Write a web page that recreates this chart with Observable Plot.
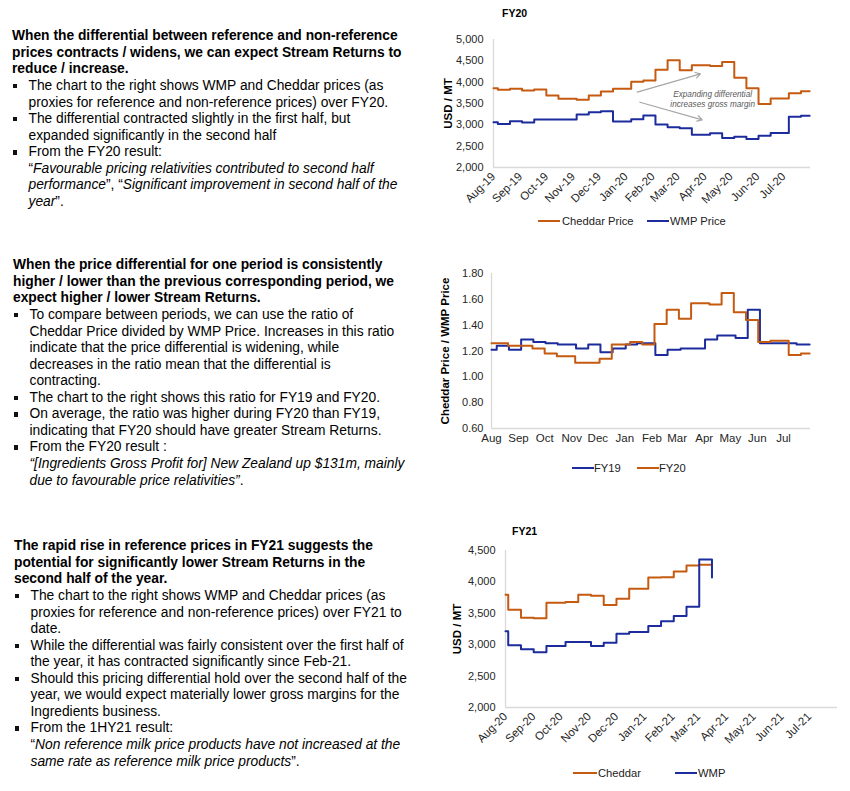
<!DOCTYPE html>
<html><head><meta charset="utf-8">
<script src="https://cdn.jsdelivr.net/npm/d3@7"></script>
<script src="https://cdn.jsdelivr.net/npm/@observablehq/plot@0.6"></script>
<style>
body{margin:0;background:#fff;font-family:"Liberation Sans",Arial,Helvetica,sans-serif;color:#000;}
#page{position:relative;width:850px;height:791px;overflow:hidden;background:#fff;}
.block{position:absolute;font-size:13.8px;line-height:16.55px;white-space:nowrap;}
.block .l{height:16.55px;position:relative;}
.block .h{font-weight:bold;}
.block .b{padding-left:16.5px;}
.sq{position:absolute;left:0.5px;top:6px;width:4.3px;height:4.3px;background:#111;}
.chart{position:absolute;}
.title{position:absolute;font-weight:bold;font-size:10.5px;line-height:12px;}
.leg{position:absolute;font-size:11.2px;line-height:14px;color:#222;white-space:nowrap;}
.sw{position:absolute;height:2px;}
</style></head>
<body><div id="page">

<div class="block" style="left:12px;top:28.4px;">
<div class="l h">When the differential between reference and non-reference</div>
<div class="l h">prices contracts / widens, we can expect Stream Returns to</div>
<div class="l h">reduce / increase.</div>
<div class="l b"><span class="sq"></span>The chart to the right shows WMP and Cheddar prices (as</div>
<div class="l b">proxies for reference and non-reference prices) over FY20.</div>
<div class="l b"><span class="sq"></span>The differential contracted slightly in the first half, but</div>
<div class="l b">expanded significantly in the second half</div>
<div class="l b"><span class="sq"></span>From the FY20 result:</div>
<div class="l b">“<i>Favourable pricing relativities contributed to second half</i></div>
<div class="l b"><i>performance</i>”, “<i>Significant improvement in second half of the</i></div>
<div class="l b"><i>year</i>”.</div>
</div>

<div class="block" style="left:13px;top:257.4px;">
<div class="l h">When the price differential for one period is consistently</div>
<div class="l h">higher / lower than the previous corresponding period, we</div>
<div class="l h">expect higher / lower Stream Returns.</div>
<div class="l b"><span class="sq"></span>To compare between periods, we can use the ratio of</div>
<div class="l b">Cheddar Price divided by WMP Price. Increases in this ratio</div>
<div class="l b">indicate that the price differential is widening, while</div>
<div class="l b">decreases in the ratio mean that the differential is</div>
<div class="l b">contracting.</div>
<div class="l b"><span class="sq"></span>The chart to the right shows this ratio for FY19 and FY20.</div>
<div class="l b"><span class="sq"></span>On average, the ratio was higher during FY20 than FY19,</div>
<div class="l b">indicating that FY20 should have greater Stream Returns.</div>
<div class="l b"><span class="sq"></span>From the FY20 result :</div>
<div class="l b"><i>“[Ingredients Gross Profit for] New Zealand up $131m, mainly</i></div>
<div class="l b"><i>due to favourable price relativities”</i>.</div>
</div>

<div class="block" style="left:14px;top:538.4px;">
<div class="l h">The rapid rise in reference prices in FY21 suggests the</div>
<div class="l h">potential for significantly lower Stream Returns in the</div>
<div class="l h">second half of the year.</div>
<div class="l b"><span class="sq"></span>The chart to the right shows WMP and Cheddar prices (as</div>
<div class="l b">proxies for reference and non-reference prices) over FY21 to</div>
<div class="l b">date.</div>
<div class="l b"><span class="sq"></span>While the differential was fairly consistent over the first half of</div>
<div class="l b">the year, it has contracted significantly since Feb-21.</div>
<div class="l b"><span class="sq"></span>Should this pricing differential hold over the second half of the</div>
<div class="l b">year, we would expect materially lower gross margins for the</div>
<div class="l b">Ingredients business.</div>
<div class="l b"><span class="sq"></span>From the 1HY21 result:</div>
<div class="l b">“<i>Non reference milk price products have not increased at the</i></div>
<div class="l b"><i>same rate as reference milk price products</i>”.</div>
</div>

<div class="title" style="left:502px;top:7px;">FY20</div>
<div class="chart" id="c1" style="left:430px;top:20px;"></div>
<div class="chart" id="c2" style="left:430px;top:263px;"></div>
<div class="title" style="left:512px;top:525px;">FY21</div>
<div class="chart" id="c3" style="left:430px;top:540px;"></div>

<div class="sw" style="left:538px;top:220px;width:22px;background:#C55A11"></div>
<div class="leg" style="left:562px;top:214px;">Cheddar Price</div>
<div class="sw" style="left:647px;top:220px;width:22px;background:#1C2C9C"></div>
<div class="leg" style="left:670px;top:214px;">WMP Price</div>

<div class="sw" style="left:572px;top:467px;width:22px;background:#1C2C9C"></div>
<div class="leg" style="left:594px;top:461px;">FY19</div>
<div class="sw" style="left:637px;top:467px;width:22px;background:#C55A11"></div>
<div class="leg" style="left:659px;top:461px;">FY20</div>

<div class="sw" style="left:573px;top:772px;width:24px;background:#C55A11"></div>
<div class="leg" style="left:598px;top:766px;">Cheddar</div>
<div class="sw" style="left:675px;top:772px;width:22px;background:#1C2C9C"></div>
<div class="leg" style="left:698px;top:766px;">WMP</div>

</div>
<script>
// ---------- DATA ----------
// FY20 GDT auction dates (step starts) and prices, USD/MT
const fy20Dates = ["2019-08-01","2019-08-06","2019-08-20","2019-09-03","2019-09-17","2019-10-01","2019-10-15","2019-11-05","2019-11-19","2019-12-03","2019-12-17","2020-01-07","2020-01-21","2020-02-04","2020-02-18","2020-03-03","2020-03-17","2020-04-07","2020-04-21","2020-05-05","2020-05-19","2020-06-02","2020-06-16","2020-07-07","2020-07-21","2020-07-31"];
const fy20Cheddar = [3860,3820,3845,3806,3830,3690,3610,3590,3690,3780,3845,4010,4040,4290,4513,4278,4395,4380,4474,4105,3860,3490,3615,3740,3790,3790];
const fy20Wmp = [3060,3020,3084,3052,3123,3123,3123,3240,3296,3320,3076,3130,3217,3005,2943,2920,2770,2800,2690,2723,2668,2746,2810,3190,3210,3210];
const fy20TickLabels = ["Aug-19","Sep-19","Oct-19","Nov-19","Dec-19","Jan-20","Feb-20","Mar-20","Apr-20","May-20","Jun-20","Jul-20"];
const priceTicksFy20 = [2000,2500,3000,3500,4000,4500,5000];
const arrowStarts = [["2020-01-14",3765],["2020-01-17",3530]];
const arrowEnds = [["2020-03-27",4196],["2020-03-29",3118]];
const noteText = "Expanding differential\nincreases gross margin";
const notePos = ["2020-04-10",3617];

// Ratio Cheddar / WMP
const fy19Dates = ["2018-08-01","2018-08-07","2018-08-21","2018-09-04","2018-09-18","2018-10-02","2018-10-16","2018-11-06","2018-11-20","2018-12-04","2018-12-18","2019-01-02","2019-01-15","2019-02-05","2019-02-19","2019-03-05","2019-03-19","2019-04-02","2019-04-16","2019-05-07","2019-05-21","2019-06-04","2019-06-18","2019-07-02","2019-07-16","2019-07-31"];
const fy19Ratio = [1.21,1.24,1.21,1.29,1.27,1.26,1.25,1.22,1.25,1.19,1.22,1.25,1.26,1.17,1.21,1.22,1.22,1.29,1.32,1.30,1.52,1.26,1.26,1.26,1.25,1.25];
const fy20Ratio = [1.26,1.26,1.24,1.24,1.22,1.18,1.16,1.11,1.11,1.14,1.25,1.27,1.25,1.41,1.52,1.45,1.57,1.56,1.65,1.50,1.44,1.27,1.28,1.17,1.18,1.18];
const ratioTickLabels = ["Aug","Sep","Oct","Nov","Dec","Jan","Feb","Mar","Apr","May","Jun","Jul"];
const ratioTicks = [0.6,0.8,1.0,1.2,1.4,1.6,1.8];

// FY21 to date
const fy21Dates = ["2020-08-01","2020-08-04","2020-08-18","2020-09-01","2020-09-15","2020-10-06","2020-10-20","2020-11-03","2020-11-17","2020-12-01","2020-12-15","2021-01-05","2021-01-19","2021-02-02","2021-02-16","2021-03-02","2021-03-16"];
const fy21Cheddar = [3795,3557,3430,3420,3668,3679,3795,3780,3631,3732,3891,4071,4076,4166,4262,4272,4272];
const fy21Wmp = [3213,2990,2927,2879,2980,3043,3043,2980,3033,3176,3202,3298,3372,3457,3605,4357,4071];
const fy21TickLabels = ["Aug-20","Sep-20","Oct-20","Nov-20","Dec-20","Jan-21","Feb-21","Mar-21","Apr-21","May-21","Jun-21","Jul-21"];
const priceTicksFy21 = [2000,2500,3000,3500,4000,4500];

// ---------- DRAW ----------
const ORANGE = "#C55A11", BLUE = "#1C2C9C", AXIS = "#d9d9d9", TXT = "#262626";
const FONT = "'Liberation Sans', Arial, Helvetica, sans-serif";
const pd = d3.utcParse("%Y-%m-%d");
const pm = d3.utcParse("%b-%y");

function series(dates, vals, name, shiftYears = 0) {
  return dates.map((d, i) => ({date: d3.utcYear.offset(pd(d), shiftYears), value: vals[i], series: name}));
}

function priceChart(el, o) {
  const tickDates = o.tickLabels.map(pm);
  const labelMap = new Map(tickDates.map((d, i) => [+d, o.tickLabels[i]]));
  const data = [...series(o.dates, o.cheddar, "Cheddar"), ...series(o.dates, o.wmp, "WMP")];
  const p = Plot.plot({
    width: 420, height: o.height,
    marginLeft: o.ml, marginRight: o.mr, marginTop: o.mt, marginBottom: o.mb,
    style: {fontFamily: FONT, fontSize: "11px", color: TXT, background: "transparent"},
    x: {type: "utc", domain: o.domainX},
    y: {domain: o.domainY},
    color: {domain: ["Cheddar", "WMP"], range: [ORANGE, BLUE]},
    marks: [
      Plot.ruleY([o.domainY[0]], {stroke: AXIS, strokeWidth: 1.3}),
      Plot.ruleX([o.domainX[0]], {stroke: AXIS, strokeWidth: 1.3}),
      Plot.axisY(o.yTicks, {tickSize: 0, tickPadding: o.ypad, tickFormat: d3.format(","), label: null, fill: TXT}),
      Plot.axisX(tickDates, {tickSize: 0, tickPadding: 7, tickRotate: -45, tickFormat: d => labelMap.get(+d), label: null, fill: TXT, fontSize: 11.5}),
      Plot.text(["USD / MT"], {frameAnchor: "left", textAnchor: "middle", rotate: -90, dx: o.labelDx, fontWeight: "bold", fontSize: 11.5, fill: "#000"}),
      ...(o.extra || []),
      Plot.line(data, {x: "date", y: "value", z: "series", stroke: "series", strokeWidth: 2, curve: "step-after"})
    ]
  });
  document.getElementById(el).appendChild(p);
}

const arrows = arrowStarts.map((s, i) => ({x1: pd(s[0]), y1: s[1], x2: pd(arrowEnds[i][0]), y2: arrowEnds[i][1]}));

priceChart("c1", {
  dates: fy20Dates, cheddar: fy20Cheddar, wmp: fy20Wmp, tickLabels: fy20TickLabels,
  domainX: [pd("2019-08-01"), pd("2020-08-01")], domainY: [2000, 5000], yTicks: priceTicksFy20,
  height: 197, ml: 63, mr: 40, mt: 19, mb: 50, labelDx: -45, ypad: 10,
  extra: [
    Plot.arrow(arrows, {x1: "x1", y1: "y1", x2: "x2", y2: "y2", stroke: "#a6a6a6", strokeWidth: 1.2, headLength: 7}),
    Plot.text([noteText], {x: () => pd(notePos[0]), y: () => notePos[1], text: d => d, fontStyle: "italic", fontSize: 8.2, fill: "#595959", lineHeight: 1.2})
  ]
});

priceChart("c3", {
  dates: fy21Dates, cheddar: fy21Cheddar, wmp: fy21Wmp, tickLabels: fy21TickLabels,
  domainX: [pd("2020-08-01"), pd("2021-08-01")], domainY: [2000, 4500], yTicks: priceTicksFy21,
  height: 217, ml: 75, mr: 13, mt: 10, mb: 50, labelDx: -48, ypad: 10
});

// Ratio chart
{
  const tickDates = ratioTickLabels.map((m, i) => pd((i < 5 ? "2019-" : "2020-") + d3.utcFormat("%m")(d3.utcParse("%b")(m)) + "-01"));
  const labelMap = new Map(tickDates.map((d, i) => [+d, ratioTickLabels[i]]));
  const data = [...series(fy19Dates, fy19Ratio, "FY19", 1), ...series(fy20Dates, fy20Ratio, "FY20")];
  const p = Plot.plot({
    width: 420, height: 190, marginLeft: 61, marginRight: 40, marginTop: 10, marginBottom: 25,
    style: {fontFamily: FONT, fontSize: "11px", color: TXT, background: "transparent"},
    x: {type: "utc", domain: [pd("2019-08-01"), pd("2020-08-01")]},
    y: {domain: [0.6, 1.8]},
    color: {domain: ["FY19", "FY20"], range: [BLUE, ORANGE]},
    marks: [
      Plot.ruleY([0.6], {stroke: AXIS, strokeWidth: 1.3}),
      Plot.ruleX([pd("2019-08-01")], {stroke: AXIS, strokeWidth: 1.3}),
      Plot.axisY(ratioTicks, {tickSize: 0, tickPadding: 8, tickFormat: d3.format(".2f"), label: null, fill: TXT}),
      Plot.axisX(tickDates, {tickSize: 0, tickPadding: 5, tickFormat: d => labelMap.get(+d), label: null, fill: TXT, fontSize: 11.5}),
      Plot.text(["Cheddar Price / WMP Price"], {frameAnchor: "left", textAnchor: "middle", rotate: -90, dx: -46, fontWeight: "bold", fontSize: 11.5, fill: "#000"}),
      Plot.line(data, {x: "date", y: "value", z: "series", stroke: "series", strokeWidth: 2, curve: "step-after"})
    ]
  });
  document.getElementById("c2").appendChild(p);
}
</script>
</body></html>
